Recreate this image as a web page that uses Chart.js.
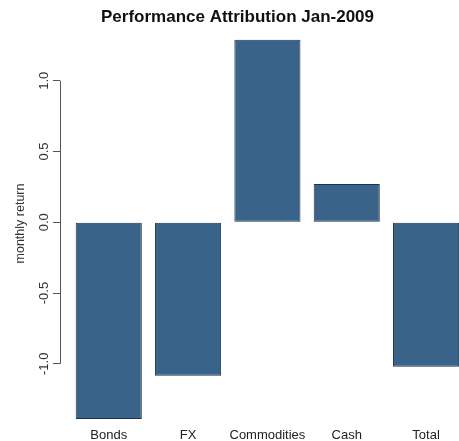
<!DOCTYPE html>
<html>
<head>
<meta charset="utf-8">
<script src="https://cdn.jsdelivr.net/npm/chart.js@4/dist/chart.umd.min.js"></script>
<style>
  html, body { margin: 0; padding: 0; background: #fff; overflow: hidden; }
  #wrap { width: 475px; height: 441px; }
</style>
</head>
<body>
<div id="wrap"><canvas id="chart" width="475" height="441"></canvas></div>
<script>
// Performance attribution, Jan-2009 (monthly return by asset class)
const categories = ["Bonds", "FX", "Commodities", "Cash", "Total"];
const returns = [-1.39, -1.085, 1.29, 0.27, -1.02];
const yTicks = [-1.0, -0.5, 0.0, 0.5, 1.0];

// R barplot layout: bars of width 1 separated by space 0.2
const space = 0.2;
const barX = categories.map((_, i) => space + 0.5 + i * (1 + space));

const FONT = "'Liberation Sans', Arial, sans-serif";

// y axis line only spans first..last tick, like base R graphics
const axisLine = {
  id: "axisLine",
  afterDraw(chart) {
    const y = chart.scales.y;
    const ctx = chart.ctx;
    const x = chart.chartArea.left;
    ctx.save();
    ctx.strokeStyle = "#555";
    ctx.lineWidth = 1;
    ctx.beginPath();
    ctx.moveTo(x + 0.5, y.getPixelForValue(yTicks[0]));
    ctx.lineTo(x + 0.5, y.getPixelForValue(yTicks[yTicks.length - 1]));
    ctx.stroke();
    ctx.restore();
  },
};

new Chart(document.getElementById("chart"), {
  type: "bar",
  data: {
    datasets: [{
      data: returns.map((v, i) => ({ x: barX[i], y: v })),
      backgroundColor: "#3a6389",
      borderColor: "#1f3347",
      borderWidth: 1,
      borderSkipped: false,
      categoryPercentage: 1,
      barPercentage: 1 / (1 + space),
    }],
  },
  options: {
    responsive: false,
    animation: false,
    layout: { padding: 0 },
    plugins: {
      legend: { display: false },
      tooltip: { enabled: false },
      title: {
        display: true,
        text: "Performance Attribution Jan-2009",
        color: "#111",
        font: { family: FONT, size: 17, weight: "bold", lineHeight: 1 },
        padding: { top: 9, bottom: 0 },
      },
    },
    scales: {
      x: {
        type: "linear",
        offset: false,
        min: -0.0375,
        max: 6.24,
        afterBuildTicks: (scale) => { scale.ticks = barX.map((v) => ({ value: v })); },
        afterFit: (scale) => { scale.height = 20; },
        grid: { display: false, drawTicks: false },
        border: { display: false },
        ticks: {
          autoSkip: false,
          maxRotation: 0,
          padding: 7,
          color: "#222",
          font: { family: FONT, size: 13 },
          callback: (v, i) => categories[i],
        },
      },
      y: {
        min: -1.404,
        max: 1.387,
        afterBuildTicks: (scale) => { scale.ticks = yTicks.map((v) => ({ value: v })); },
        afterFit: (scale) => { scale.width = 60; },
        grid: { drawOnChartArea: false, drawTicks: true, tickLength: 7, color: "#555" },
        border: { display: false },
        ticks: {
          autoSkip: false,
          minRotation: 90,
          maxRotation: 90,
          crossAlign: "center",
          padding: -3,
          color: "#333",
          font: { family: FONT, size: 13 },
          callback: (v) => v.toFixed(1),
        },
        title: {
          display: true,
          text: "monthly return",
          color: "#333",
          font: { family: FONT, size: 12.5 },
          padding: { top: 13.5, bottom: 0 },
        },
      },
    },
  },
  plugins: [axisLine],
});
</script>
</body>
</html>
